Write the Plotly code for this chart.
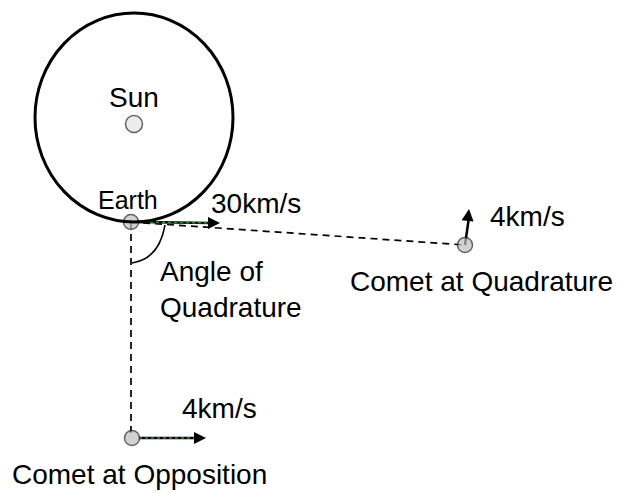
import plotly.graph_objects as go

# ---- data (diagram coordinates, y grows downward) ----
orbit_x = [35, 233]
orbit_y = [13, 222]

body_names = ["Sun", "Earth", "Comet at Quadrature", "Comet at Opposition"]
body_x = [134, 131, 465, 132]
body_y = [124, 222, 245, 438]
body_fill = ["#e4e4e4", "#c0c0c0", "#c0c0c0", "#c0c0c0"]
body_size = [17, 15, 15, 15]

sight_x = [[131, 465], [131, 131]]
sight_y = [[222, 245], [222, 438]]

vel_labels = ["30km/s", "4km/s", "4km/s"]
vel_x0 = [138, 465, 139]
vel_y0 = [222, 245, 438]
vel_x1 = [220, 469, 206]
vel_y1 = [223, 209, 438]

arc_x = [165, 159, 132]
arc_y = [225, 259, 263]

labels = ["Sun", "Earth", "30km/s", "4km/s", "Comet at Quadrature",
          "Angle of<br>Quadrature", "4km/s", "Comet at Opposition"]
label_x = [134, 128, 256, 527, 481, 158, 219, 139]
label_y = [97, 200, 203, 216, 281, 289, 408, 474]
label_size = [28, 25, 28, 28, 28, 28, 28, 28]
label_anchor = ["center", "center", "center", "center", "center", "left", "center", "center"]

FONT = "Liberation Sans, Arial, sans-serif"
PAGE_OFFSET = 8  # default body margin of the html page

fig = go.Figure()

# orbit circle
fig.add_shape(type="circle", xref="x", yref="y",
              x0=orbit_x[0], x1=orbit_x[1], y0=orbit_y[0], y1=orbit_y[1],
              line=dict(color="black", width=3))

# lines of sight (dashed)
for sx, sy in zip(sight_x, sight_y):
    fig.add_trace(go.Scatter(x=sx, y=sy, mode="lines",
                             line=dict(color="black", width=1.7, dash="7px,5px"),
                             hoverinfo="skip", showlegend=False))

# angle arc
fig.add_shape(type="path", xref="x", yref="y",
              path=f"M {arc_x[0]},{arc_y[0]} Q {arc_x[1]},{arc_y[1]} {arc_x[2]},{arc_y[2]}",
              line=dict(color="black", width=1.6))

# velocity arrows
for i in range(len(vel_labels)):
    horiz = abs(vel_y1[i] - vel_y0[i]) < 3
    fig.add_trace(go.Scatter(x=[vel_x0[i], vel_x1[i] - (8 if horiz else 0)],
                             y=[vel_y0[i], vel_y1[i] + (0 if horiz else 8)],
                             mode="lines", line=dict(color="black", width=2.5),
                             hoverinfo="skip", showlegend=False))
    if horiz:
        fig.add_trace(go.Scatter(x=[vel_x0[i], vel_x1[i] - 4], y=[vel_y0[i], vel_y1[i]],
                                 mode="lines", line=dict(color="#1a9a1a", width=1.5, dash="dot"),
                                 hoverinfo="skip", showlegend=False))
    fig.add_annotation(x=vel_x1[i], y=vel_y1[i],
                       ax=vel_x1[i] - (12 if horiz else (vel_x1[i] - vel_x0[i]) * 0.35),
                       ay=vel_y1[i] + (0 if horiz else 12),
                       xref="x", yref="y", axref="x", ayref="y",
                       showarrow=True, arrowhead=2, arrowsize=1.2, arrowwidth=2,
                       arrowcolor="black", text="")

# bodies
fig.add_trace(go.Scatter(x=body_x, y=body_y, mode="markers",
                         marker=dict(size=body_size, color=body_fill,
                                     line=dict(color="#222222", width=1.5)),
                         text=body_names, hoverinfo="text", showlegend=False))

# labels
for t, x, y, s, a in zip(labels, label_x, label_y, label_size, label_anchor):
    fig.add_annotation(x=x, y=y, xref="x", yref="y", text=t, showarrow=False,
                       xanchor=a, yanchor="middle", align="left",
                       font=dict(family=FONT, size=s, color="black"))

fig.update_xaxes(range=[PAGE_OFFSET, 621], visible=False, fixedrange=True)
fig.update_yaxes(range=[493, PAGE_OFFSET], visible=False, fixedrange=True)
fig.update_layout(width=621 - PAGE_OFFSET, height=493 - PAGE_OFFSET,
                  margin=dict(l=0, r=0, t=0, b=0),
                  paper_bgcolor="white", plot_bgcolor="white")

fig.write_html("out.html")
